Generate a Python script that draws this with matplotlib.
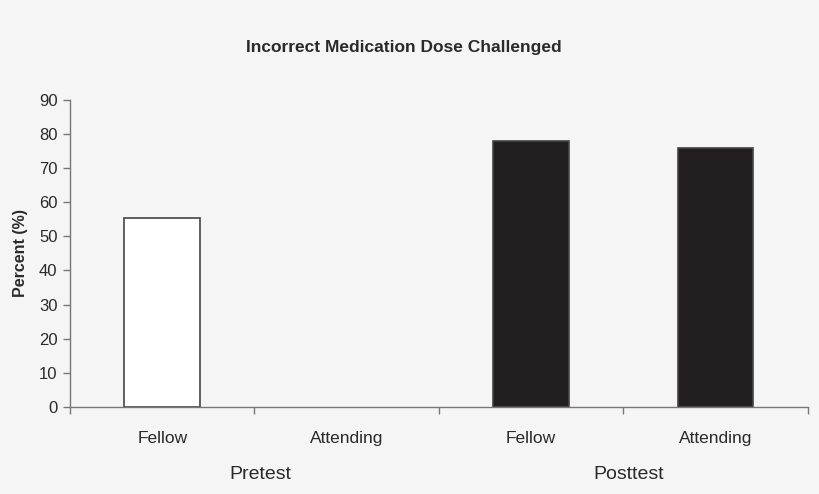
import numpy as np
import matplotlib
matplotlib.use("Agg")
import matplotlib.pyplot as plt

plt.rcParams['font.family'] = ['Liberation Sans', 'DejaVu Sans']

# data
categories = ["Fellow", "Attending", "Fellow", "Attending"]
groups = ["Pretest", "Posttest"]
values = [55.5, 0, 78, 76]
face_colors = ["white", "white", "#231f20", "#231f20"]

bg = "#f5f5f5"
axis_col = "#777777"
text_col = "#2a2a2a"

fig = plt.figure(figsize=(8.2, 4.94), dpi=100, facecolor=bg)
ax = fig.add_axes([0.0854, 0.176, 0.8996, 0.622], facecolor=bg)

x = np.arange(len(categories))
for xi, v, fc in zip(x, values, face_colors):
    if v > 0:
        ax.bar(xi, v, width=0.41, color=fc, edgecolor="#444444", linewidth=1.2)

ax.set_xlim(-0.5, len(categories) - 0.5)
ax.set_ylim(0, 90)
ax.set_yticks(range(0, 91, 10))

# boundary ticks (major) and labels at centers (minor)
ax.set_xticks(np.arange(-0.5, len(categories), 1.0))
ax.set_xticklabels([])
ax.set_xticks(x, minor=True)
ax.set_xticklabels(categories, minor=True)
ax.tick_params(axis='x', which='major', length=5, color=axis_col, width=1)
ax.tick_params(axis='x', which='minor', length=0, pad=17, labelsize=12.5, labelcolor=text_col)
ax.tick_params(axis='y', length=5, color=axis_col, width=1, labelsize=12, labelcolor=text_col, pad=4)

for s in ["top", "right"]:
    ax.spines[s].set_visible(False)
for s in ["left", "bottom"]:
    ax.spines[s].set_color(axis_col)
    ax.spines[s].set_linewidth(1)

ax.set_ylabel("Percent (%)", fontsize=11.5, fontweight="bold", color=text_col, labelpad=8)

# group labels
for gi, g in enumerate(groups):
    ax.text(gi * 2 + 0.53, -0.218, g, transform=ax.get_xaxis_transform(), ha="center", va="center",
            fontsize=14, color=text_col)

fig.text(0.492, 0.903, "Incorrect Medication Dose Challenged", ha="center", va="center",
         fontsize=12.5, fontweight="bold", color=text_col)

fig.savefig("out.png", dpi=100, facecolor=bg)
